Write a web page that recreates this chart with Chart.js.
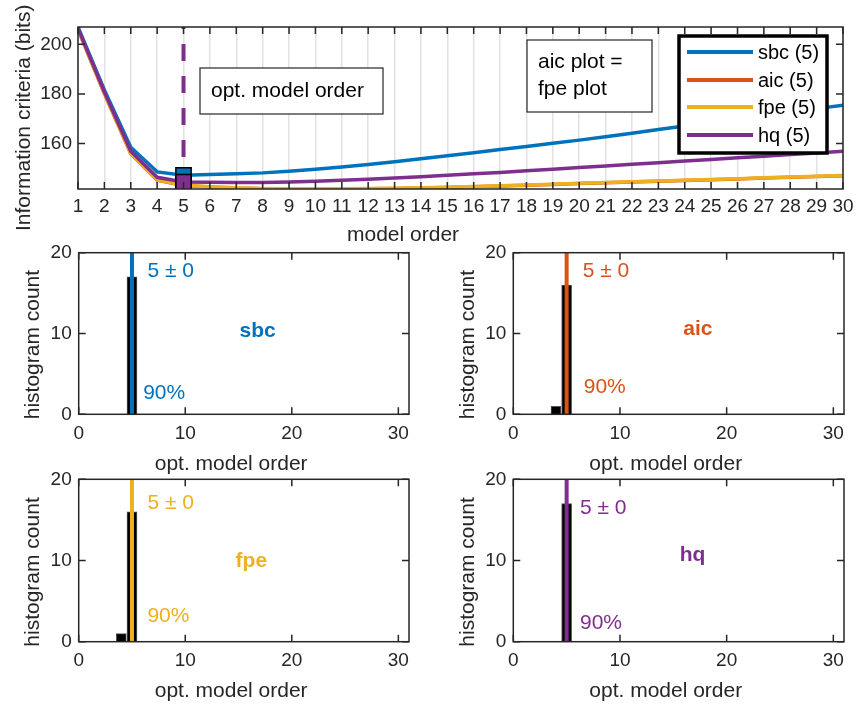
<!DOCTYPE html>
<html>
<head>
<meta charset="utf-8">
<script src="https://cdn.jsdelivr.net/npm/chart.js@4.4.1/dist/chart.umd.min.js"></script>
<style>
    body { margin: 0; background: #fff; }
    #wrap { position: relative; width: 857px; height: 706px; }
    canvas { position: absolute; }
</style>
</head>
<body>
<div id="wrap">
    <canvas id="icChart" width="857" height="245" style="left:0;top:0"></canvas>
    <canvas id="histSbc" width="428" height="240" style="left:0;top:235px"></canvas>
    <canvas id="histAic" width="429" height="240" style="left:428px;top:235px"></canvas>
    <canvas id="histFpe" width="428" height="246" style="left:0;top:460px"></canvas>
    <canvas id="histHq" width="429" height="246" style="left:428px;top:460px"></canvas>
</div>
<script>
// ---- data ----
const modelOrders = [1, 2, 3, 4, 5, 6, 7, 8, 9, 10, 11, 12, 13, 14, 15, 16, 17, 18, 19, 20, 21, 22, 23, 24, 25, 26, 27, 28, 29, 30];
const sbcValues = [207, 181.6, 158.5, 148.6, 147.2, 147.5, 147.8, 148.2, 148.9, 149.7, 150.6, 151.6, 152.7, 153.9, 155.1, 156.3, 157.6, 158.8, 160.1, 161.4, 162.8, 164.2, 165.7, 167.1, 168.5, 169.9, 171.3, 172.7, 174.1, 175.5];
const aicValues = [205.9, 180.2, 155.9, 145.3, 143.1, 142.5, 142.1, 141.8, 141.7, 141.7, 141.7, 141.8, 141.9, 142.1, 142.3, 142.6, 142.9, 143.2, 143.5, 143.9, 144.2, 144.5, 144.8, 145.1, 145.4, 145.7, 146.1, 146.4, 146.7, 147.0];
const fpeValues = [206, 180.3, 156.0, 145.4, 143.2, 142.6, 142.2, 141.9, 141.8, 141.8, 141.8, 141.9, 142.0, 142.2, 142.4, 142.7, 143.0, 143.3, 143.6, 144.0, 144.3, 144.6, 144.9, 145.2, 145.5, 145.8, 146.2, 146.5, 146.8, 147.1];
const hqValues = [206.5, 180.8, 156.9, 146.4, 144.5, 144.4, 144.3, 144.3, 144.5, 144.8, 145.2, 145.6, 146.1, 146.6, 147.2, 147.8, 148.4, 149.1, 149.7, 150.4, 151.0, 151.7, 152.3, 153.0, 153.6, 154.3, 154.9, 155.6, 156.2, 156.9];
const icTicks = [160, 180, 200];
const icRange = [141.7, 207];

const criteria = ['sbc', 'aic', 'fpe', 'hq'];
const criteriaColors = ['#0072BD', '#D95319', '#EDB120', '#7E2F8E'];
const optOrders = [5, 5, 5, 5];
const optStd = [0, 0, 0, 0];
const optPercent = [90, 90, 90, 90];

const histBins = [4, 5];
const sbcCounts = [0, 17];
const aicCounts = [1, 16];
const fpeCounts = [1, 16];
const hqCounts = [0, 17];
const histXTicks = [0, 10, 20, 30];
const histYTicks = [0, 10, 20];

const FONT = "'Liberation Sans', Arial, Helvetica, sans-serif";
const AXIS_COLOR = '#262626';
const TICK_LEN = 7;

Chart.defaults.font.family = FONT;
Chart.defaults.color = AXIS_COLOR;

function fitX(height) {
    return s => { s.height = height; s.paddingLeft = 0; s.paddingRight = 0; };
}
function fitY(width) {
    return s => { s.width = width; s.paddingTop = 0; s.paddingBottom = 0; };
}
function setTicks(values) {
    return s => { s.ticks = values.map(v => ({ value: v })); };
}

// box with inward ticks on all four sides, MATLAB style
const matlabFrame = {
    id: 'matlabFrame',
    afterDatasetsDraw(chart) {
        const { ctx, chartArea: a, scales: { x, y } } = chart;
        ctx.save();
        ctx.strokeStyle = AXIS_COLOR;
        ctx.lineWidth = 1.5;
        ctx.beginPath();
        x.ticks.forEach(t => {
            const px = x.getPixelForValue(t.value);
            ctx.moveTo(px, a.bottom); ctx.lineTo(px, a.bottom - TICK_LEN);
            ctx.moveTo(px, a.top); ctx.lineTo(px, a.top + TICK_LEN);
        });
        y.ticks.forEach(t => {
            const py = y.getPixelForValue(t.value);
            ctx.moveTo(a.left, py); ctx.lineTo(a.left + TICK_LEN, py);
            ctx.moveTo(a.right, py); ctx.lineTo(a.right - TICK_LEN, py);
        });
        ctx.stroke();
        ctx.strokeRect(a.left, a.top, a.right - a.left, a.bottom - a.top);
        ctx.restore();
    }
};

function drawVerticalText(ctx, text, cx, bottom, size) {
    ctx.save();
    ctx.translate(cx, bottom);
    ctx.rotate(-Math.PI / 2);
    ctx.font = `${size}px ${FONT}`;
    ctx.fillStyle = AXIS_COLOR;
    ctx.textAlign = 'left';
    ctx.textBaseline = 'middle';
    ctx.fillText(text, 0, 0);
    ctx.restore();
}

function textBox(ctx, lines, left, top, w, h, textX, lineYs) {
    ctx.save();
    ctx.fillStyle = '#fff';
    ctx.fillRect(left, top, w, h);
    ctx.strokeStyle = AXIS_COLOR;
    ctx.lineWidth = 1.2;
    ctx.strokeRect(left, top, w, h);
    ctx.font = `21px ${FONT}`;
    ctx.fillStyle = '#000';
    ctx.textBaseline = 'middle';
    ctx.textAlign = 'left';
    lines.forEach((l, i) => ctx.fillText(l, textX, lineYs[i]));
    ctx.restore();
}

// ---- top chart: information criteria ----
const icAnnotations = {
    id: 'icAnnotations',
    afterDraw(chart) {
        const { ctx } = chart;
        // axis titles
        ctx.save();
        ctx.font = `21px ${FONT}`;
        ctx.fillStyle = AXIS_COLOR;
        ctx.textBaseline = 'middle';
        ctx.textAlign = 'left';
        ctx.fillText('model order', 347, 235);
        ctx.restore();
        drawVerticalText(ctx, 'Information criteria (bits)', 24, 231, 21);

        textBox(ctx, ['opt. model order'], 200, 68, 183, 46, 211, [91]);
        textBox(ctx, ['aic plot =', 'fpe plot'], 527, 40, 125, 72, 538, [62, 89]);

        // legend
        ctx.save();
        ctx.fillStyle = '#fff';
        ctx.fillRect(679, 36, 148, 117);
        ctx.strokeStyle = '#000';
        ctx.lineWidth = 3.5;
        ctx.strokeRect(679, 36, 148, 117);
        ctx.font = `20px ${FONT}`;
        ctx.textBaseline = 'middle';
        ctx.textAlign = 'left';
        const rows = [52, 80, 107, 135];
        criteria.forEach((name, i) => {
            ctx.strokeStyle = criteriaColors[i];
            ctx.lineWidth = 4;
            ctx.beginPath();
            ctx.moveTo(687, rows[i]);
            ctx.lineTo(753, rows[i]);
            ctx.stroke();
            ctx.fillStyle = '#000';
            ctx.fillText(`${name} (${optOrders[i]})`, 758, rows[i] + 1);
        });
        ctx.restore();
    }
};

const seriesValues = [sbcValues, aicValues, fpeValues, hqValues];
const icDatasets = criteria.map((name, i) => {
    const optIndex = modelOrders.indexOf(optOrders[i]);
    return {
        label: name,
        data: modelOrders.map((m, j) => ({ x: m, y: seriesValues[i][j] })),
        borderColor: criteriaColors[i],
        backgroundColor: criteriaColors[i],
        borderWidth: 3.5,
        pointStyle: 'rect',
        pointRadius: ctx => ctx.dataIndex === optIndex ? 10.8 : 0,
        pointBackgroundColor: criteriaColors[i],
        pointBorderColor: '#000',
        pointBorderWidth: 1.5,
        order: 4 - i
    };
});
icDatasets.push({
    label: 'opt',
    data: [{ x: optOrders[3], y: icRange[0] }, { x: optOrders[3], y: icRange[1] }],
    borderColor: criteriaColors[3],
    borderWidth: 4,
    borderDash: [17, 15],
    pointRadius: 0,
    order: 10
});

new Chart(document.getElementById('icChart'), {
    type: 'line',
    data: { datasets: icDatasets },
    options: {
        responsive: false,
        animation: false,
        devicePixelRatio: 1,
        layout: { padding: { left: 0, top: 27, right: 14, bottom: 0 } },
        plugins: { legend: { display: false }, tooltip: { enabled: false } },
        scales: {
            x: {
                type: 'linear',
                min: modelOrders[0],
                max: modelOrders[modelOrders.length - 1],
                afterBuildTicks: setTicks(modelOrders),
                afterFit: fitX(56),
                ticks: { font: { size: 19 }, color: AXIS_COLOR, padding: 6, maxRotation: 0, autoSkip: false },
                grid: { color: '#e2e2e2', lineWidth: 1.5, drawTicks: false },
                border: { display: false }
            },
            y: {
                type: 'linear',
                min: icRange[0],
                max: icRange[1],
                afterBuildTicks: setTicks(icTicks),
                afterFit: fitY(78),
                ticks: { font: { size: 19 }, color: AXIS_COLOR, padding: 6 },
                grid: { display: false, drawTicks: false },
                border: { display: false }
            }
        }
    },
    plugins: [matlabFrame, icAnnotations]
});

// ---- histograms ----
const histCounts = [sbcCounts, aicCounts, fpeCounts, hqCounts];
const panels = [
    { id: 'histSbc', left: 78.7, top: 17.7, right: 19, bottom: 60.7, mean: [6.45, 17.7], pct: [6.05, 2.6], name: [16.8, 10.3] },
    { id: 'histAic', left: 85.3, top: 17.7, right: 13, bottom: 60.7, mean: [6.5, 17.7], pct: [6.6, 3.4], name: [17.3, 10.5] },
    { id: 'histFpe', left: 78.7, top: 19.3, right: 19, bottom: 64.3, mean: [6.45, 17.0], pct: [6.45, 3.2], name: [16.2, 9.9] },
    { id: 'histHq', left: 85.3, top: 19.3, right: 13, bottom: 64.3, mean: [6.25, 16.5], pct: [6.25, 2.3], name: [16.8, 10.7] }
];

panels.forEach((p, i) => {
    const color = criteriaColors[i];
    const bars = histBins
        .map((b, j) => ({ x: b, y: histCounts[i][j] }))
        .filter(d => d.y > 0);

    const histText = {
        id: 'histText',
        afterDraw(chart) {
            const { ctx, chartArea: a, scales: { x, y } } = chart;
            ctx.save();
            ctx.fillStyle = color;
            ctx.textBaseline = 'middle';
            ctx.font = `21px ${FONT}`;
            ctx.textAlign = 'left';
            ctx.fillText(`${optOrders[i]} ± ${optStd[i]}`, x.getPixelForValue(p.mean[0]), y.getPixelForValue(p.mean[1]));
            ctx.fillText(`${optPercent[i]}%`, x.getPixelForValue(p.pct[0]), y.getPixelForValue(p.pct[1]));
            ctx.font = `bold 21px ${FONT}`;
            ctx.textAlign = 'center';
            ctx.fillText(criteria[i], x.getPixelForValue(p.name[0]), y.getPixelForValue(p.name[1]));

            ctx.fillStyle = AXIS_COLOR;
            ctx.font = `21px ${FONT}`;
            ctx.textAlign = 'left';
            ctx.fillText('opt. model order', a.left + 76, a.bottom + 50);
            ctx.restore();
            drawVerticalText(ctx, 'histogram count', a.left - 45, a.bottom + 5, 21);
        }
    };

    new Chart(document.getElementById(p.id), {
        type: 'bar',
        data: {
            datasets: [
                {
                    type: 'bar',
                    label: criteria[i] + ' count',
                    data: bars,
                    backgroundColor: '#000',
                    borderColor: '#555',
                    borderWidth: 1,
                    barThickness: 10,
                    order: 2
                },
                {
                    type: 'line',
                    label: criteria[i] + ' mean',
                    data: [{ x: optOrders[i], y: histYTicks[0] }, { x: optOrders[i], y: histYTicks[histYTicks.length - 1] }],
                    borderColor: color,
                    borderWidth: 4,
                    pointRadius: 0,
                    order: 1
                }
            ]
        },
        options: {
            responsive: false,
            animation: false,
            devicePixelRatio: 1,
            layout: { padding: { left: 0, top: p.top, right: p.right, bottom: 0 } },
            plugins: { legend: { display: false }, tooltip: { enabled: false } },
            scales: {
                x: {
                    type: 'linear',
                    min: 0,
                    max: 31,
                    offset: false,
                    afterBuildTicks: setTicks(histXTicks),
                    afterFit: fitX(p.bottom),
                    ticks: { font: { size: 19 }, color: AXIS_COLOR, padding: 8, maxRotation: 0 },
                    grid: { display: false, drawTicks: false, offset: false },
                    border: { display: false }
                },
                y: {
                    type: 'linear',
                    min: 0,
                    max: 20,
                    afterBuildTicks: setTicks(histYTicks),
                    afterFit: fitY(p.left),
                    ticks: { font: { size: 19 }, color: AXIS_COLOR, padding: 7 },
                    grid: { display: false, drawTicks: false },
                    border: { display: false }
                }
            }
        },
        plugins: [matlabFrame, histText]
    });
});
</script>
</body>
</html>
